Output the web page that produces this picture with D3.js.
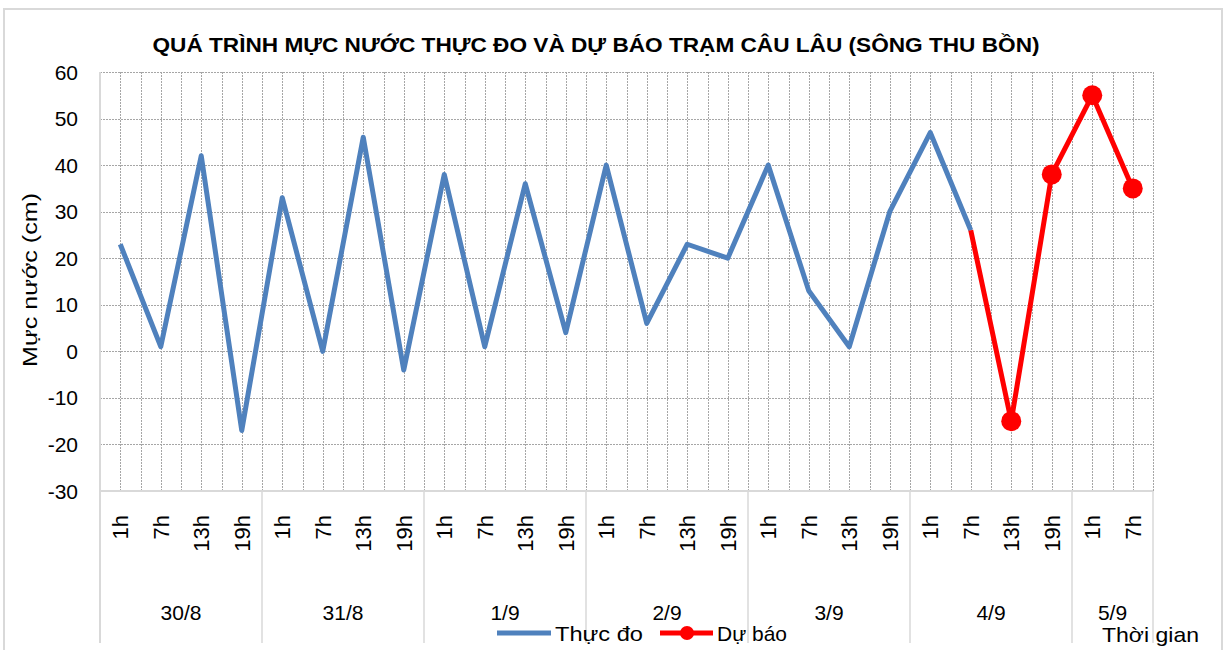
<!DOCTYPE html>
<html>
<head>
<meta charset="utf-8">
<script src="https://cdn.jsdelivr.net/npm/d3@7"></script>
<style>
  body { margin: 0; background: #fff; }
  svg text { font-family: "Liberation Sans", Arial, sans-serif; fill: #000; }
</style>
</head>
<body>
<div id="viz"></div>
<script>
// tick labels for every reading (6-hourly)
const hours = ["1h","7h","13h","19h", "1h","7h","13h","19h", "1h","7h","13h","19h",
               "1h","7h","13h","19h", "1h","7h","13h","19h", "1h","7h","13h","19h",
               "1h","7h"];
// day groups below the hour labels, and how many readings each day has
const days = ["30/8","31/8","1/9","2/9","3/9","4/9","5/9"];
const dayCounts = [4,4,4,4,4,4,2];

// measured water level (cm)
const observed = [23, 1, 42, -17, 33, 0, 46, -4, 38, 1, 36, 4,
                  40, 6, 23, 20, 40, 13, 1, 30, 47, 26];
// forecast (cm) - starts at the last measured value
const forecastStart = 21;
const forecast = [26, -15, 38, 55, 35];

const yTicks = [60, 50, 40, 30, 20, 10, 0, -10, -20, -30];

const W = 1226, H = 650;
const margin = {left: 100, top: 72, right: 73, bottom: 159};
const width = W - margin.left - margin.right;
const height = H - margin.top - margin.bottom;

const svg = d3.select("#viz").append("svg")
    .attr("width", W)
    .attr("height", H);

// chart border
svg.append("rect")
    .attr("x", 4).attr("y", 9)
    .attr("width", 1218).attr("height", 660)
    .attr("fill", "#fff")
    .attr("stroke", "#d9d9d9")
    .attr("stroke-width", 2);

const g = svg.append("g")
    .attr("transform", "translate(" + margin.left + "," + margin.top + ")");

const xScale = d3.scaleBand()
    .domain(d3.range(hours.length))
    .range([0, width])
    .padding(0);
const bw = xScale.bandwidth();
const cx = i => xScale(i) + bw / 2;

const yScale = d3.scaleLinear()
    .domain([-30, 60])
    .range([height, 0]);

// dotted grid: horizontal at each tick, vertical at every half category
const grid = g.append("g")
    .attr("stroke", "#a6a6a6")
    .attr("stroke-width", 1)
    .attr("stroke-dasharray", "2,1");
grid.selectAll(".hg")
  .data(yTicks.filter(d => d > -30))
  .join("line")
    .attr("x1", 0).attr("x2", width)
    .attr("y1", d => Math.round(yScale(d)) + 0.5)
    .attr("y2", d => Math.round(yScale(d)) + 0.5);
const vPos = [];
hours.forEach((h, i) => { vPos.push(cx(i)); vPos.push(xScale(i) + bw); });
grid.selectAll(".vg")
  .data(vPos)
  .join("line")
    .attr("x1", d => Math.round(d) + 0.5).attr("x2", d => Math.round(d) + 0.5)
    .attr("y1", 0).attr("y2", height);

// axes lines (light grey, solid)
const axisCol = "#d9d9d9";
g.append("line")
    .attr("x1", 0).attr("x2", width)
    .attr("y1", height).attr("y2", height)
    .attr("stroke", axisCol).attr("stroke-width", 2);
g.append("line")
    .attr("x1", 0).attr("x2", 0)
    .attr("y1", 0).attr("y2", height + 152)
    .attr("stroke", axisCol).attr("stroke-width", 2);

// day separators below the axis
let start = 0;
const dayInfo = days.map((d, k) => {
  const s = start;
  start += dayCounts[k];
  return {day: d, first: s, last: start - 1};
});
g.selectAll(".sep")
  .data(dayInfo)
  .join("line")
    .attr("x1", d => xScale(d.last) + bw).attr("x2", d => xScale(d.last) + bw)
    .attr("y1", height).attr("y2", height + 152)
    .attr("stroke", axisCol).attr("stroke-width", 1.5);

// y tick labels
g.selectAll(".ytick")
  .data(yTicks)
  .join("text")
    .attr("x", -22)
    .attr("y", d => yScale(d))
    .attr("dy", "0.36em")
    .attr("text-anchor", "end")
    .attr("font-size", 21)
    .text(d => d);

// rotated hour labels
g.selectAll(".xtick")
  .data(hours)
  .join("text")
    .attr("transform", (d, i) => "translate(" + (cx(i) + 8) + "," + (height + 24) + ") rotate(-90)")
    .attr("text-anchor", "end")
    .attr("font-size", 22)
    .text(d => d);

// day labels
g.selectAll(".day")
  .data(dayInfo)
  .join("text")
    .attr("x", d => (xScale(d.first) + xScale(d.last) + bw) / 2)
    .attr("y", height + 129)
    .attr("text-anchor", "middle")
    .attr("font-size", 21)
    .text(d => d.day);

// series lines
const line = d3.line()
    .x(d => cx(d.i))
    .y(d => yScale(d.v));

const obsData = observed.map((v, i) => ({i: i, v: v}));
const fcData = forecast.map((v, k) => ({i: forecastStart + k, v: v}));

g.append("path")
    .datum(obsData)
    .attr("d", line)
    .attr("fill", "none")
    .attr("stroke", "#4f81bd")
    .attr("stroke-width", 5)
    .attr("stroke-linejoin", "round");

g.append("path")
    .datum(fcData)
    .attr("d", line)
    .attr("fill", "none")
    .attr("stroke", "#ff0000")
    .attr("stroke-width", 5)
    .attr("stroke-linejoin", "round");

g.selectAll(".dot")
  .data(fcData.slice(1))
  .join("circle")
    .attr("cx", d => cx(d.i))
    .attr("cy", d => yScale(d.v))
    .attr("r", 10)
    .attr("fill", "#ff0000");

// title
svg.append("text")
    .attr("x", 596)
    .attr("y", 52)
    .attr("text-anchor", "middle")
    .attr("font-size", 21)
    .attr("font-weight", "bold")
    .attr("textLength", 887)
    .attr("lengthAdjust", "spacingAndGlyphs")
    .text("QUÁ TRÌNH MỰC NƯỚC THỰC ĐO VÀ DỰ BÁO TRẠM CÂU LÂU (SÔNG THU BỒN)");

// y axis title
svg.append("text")
    .attr("transform", "translate(37,280) rotate(-90)")
    .attr("text-anchor", "middle")
    .attr("font-size", 21)
    .attr("textLength", 174)
    .attr("lengthAdjust", "spacingAndGlyphs")
    .text("Mực nước (cm)");

// x axis title
svg.append("text")
    .attr("x", 1102)
    .attr("y", 642)
    .attr("font-size", 21)
    .attr("textLength", 97)
    .attr("lengthAdjust", "spacingAndGlyphs")
    .text("Thời gian");

// legend
const legY = 633;
const legend = svg.append("g");
legend.append("line")
    .attr("x1", 497).attr("x2", 551)
    .attr("y1", legY).attr("y2", legY)
    .attr("stroke", "#4f81bd").attr("stroke-width", 5);
legend.append("text")
    .attr("x", 555).attr("y", legY + 8)
    .attr("font-size", 21)
    .attr("textLength", 88)
    .attr("lengthAdjust", "spacingAndGlyphs")
    .text("Thực đo");
legend.append("line")
    .attr("x1", 660).attr("x2", 713)
    .attr("y1", legY).attr("y2", legY)
    .attr("stroke", "#ff0000").attr("stroke-width", 5);
legend.append("circle")
    .attr("cx", 687).attr("cy", legY).attr("r", 7)
    .attr("fill", "#ff0000");
legend.append("text")
    .attr("x", 717).attr("y", legY + 8)
    .attr("font-size", 21)
    .attr("textLength", 70)
    .attr("lengthAdjust", "spacingAndGlyphs")
    .text("Dự báo");
</script>
</body>
</html>
